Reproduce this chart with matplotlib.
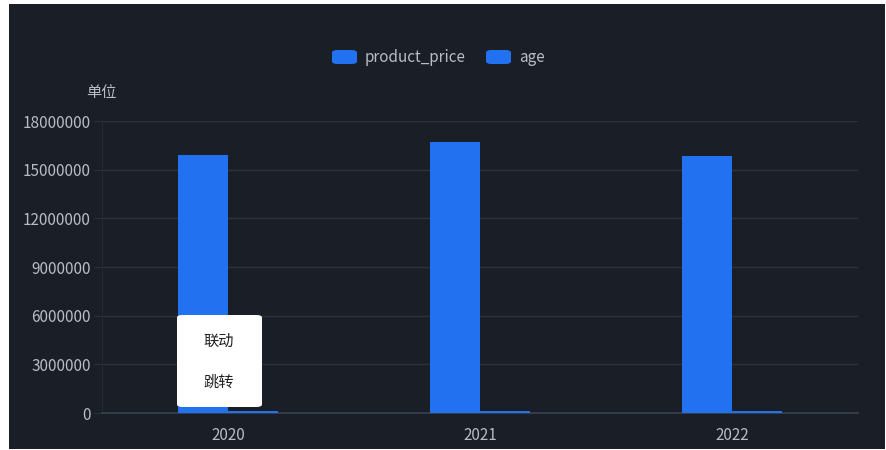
import matplotlib
matplotlib.use("Agg")
import matplotlib.pyplot as plt
from matplotlib.patches import Rectangle, FancyBboxPatch
import numpy as np

plt.rcParams['font.family'] = ['Noto Sans CJK SC', 'DejaVu Sans']

years = ["2020", "2021", "2022"]
series_names = ["product_price", "age"]
product_price = [15900000, 16700000, 15850000]
age = [110000, 110000, 105000]
y_ticks = [0, 3000000, 6000000, 9000000, 12000000, 15000000, 18000000]
menu_items = ["联动", "跳转"]

BG = "#1a1f27"
BLUE = "#2171f0"
GRID = "#2a323d"
TXT = "#b8bcc4"
W, H = 886, 450

fig = plt.figure(figsize=(W / 100, H / 100), dpi=100, facecolor="white")
# dark panel (the screenshot has a thin white border)
fig.patches.append(Rectangle((9 / W, 1 - 449 / H), 876 / W, 445 / H,
                             transform=fig.transFigure, facecolor=BG,
                             edgecolor="none", zorder=-5))

ax = fig.add_axes([102 / W, 1 - 413 / H, 756 / W, 292 / H])
ax.set_facecolor(BG)
ax.patch.set_alpha(0)

x = np.arange(len(years))
bw = 0.198
ax.bar(x - bw / 2, product_price, bw, color=BLUE, zorder=3)
ax.bar(x + bw / 2, age, bw, color=BLUE, zorder=3)

ax.set_xlim(-0.5, len(years) - 0.5)
ax.set_ylim(0, 18000000)
ax.set_yticks(y_ticks)
ax.set_yticklabels([str(v) for v in y_ticks])
ax.set_xticks(x)
ax.set_xticklabels(years)
ax.yaxis.grid(True, color=GRID, linewidth=1)
ax.set_axisbelow(True)
for s in ["top", "right"]:
    ax.spines[s].set_visible(False)
ax.spines["left"].set_color("#222a34")
ax.spines["bottom"].set_color("#39424f")
ax.spines["bottom"].set_linewidth(1.2)
ax.tick_params(axis="y", length=6, color=GRID, labelcolor=TXT, labelsize=11, pad=2)
ax.tick_params(axis="x", length=0, labelcolor=TXT, labelsize=11, pad=10)

fig.text(86 / W, 1 - 93 / H, "单位", color=TXT, fontsize=11, va="center", ha="left")

# legend
lx = [332, 486]
for name, x0 in zip(series_names, lx):
    fig.patches.append(FancyBboxPatch((x0 / W, 1 - 64 / H), 25 / W, 14 / H,
                                      boxstyle="round,pad=0,rounding_size=0.006",
                                      transform=fig.transFigure, facecolor=BLUE,
                                      edgecolor="none", zorder=2))
    fig.text((x0 + 33) / W, 1 - 57 / H, name, color=TXT, fontsize=11,
             va="center", ha="left")

# context menu popup
fig.patches.append(FancyBboxPatch((177 / W, 1 - 407 / H), 85 / W, 92 / H,
                                  boxstyle="round,pad=0,rounding_size=0.006",
                                  transform=fig.transFigure, facecolor="white",
                                  edgecolor="none", zorder=5))
for item, yy in zip(menu_items, [341, 382]):
    fig.text(219 / W, 1 - yy / H, item, color="#222222", fontsize=11,
             va="center", ha="center", zorder=6)

fig.savefig("out.png", dpi=100, facecolor="white")
